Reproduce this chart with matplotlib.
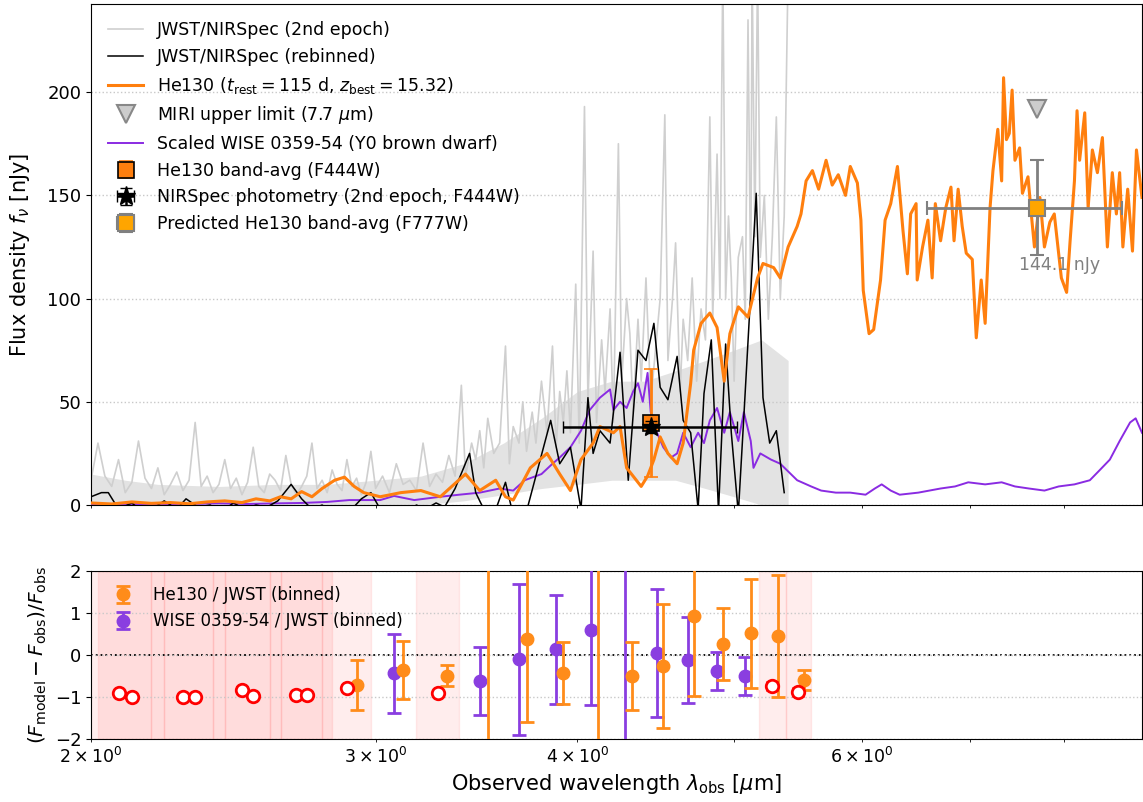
import numpy as np
import matplotlib
matplotlib.use("Agg")
import matplotlib.pyplot as plt

plt.rcParams.update({"font.family": "DejaVu Sans", "font.size": 12.5,
                     "mathtext.fontset": "dejavusans"})

C = {"gray": "#cfcfcf", "band": "#e3e3e3", "black": "black", "he": "#ff7f0e",
     "wise": "#8a2be2", "res_he": "#ff8c1a", "res_wise": "#8a3ee0", "flag": "red"}

# ── JWST/NIRSpec 2nd epoch spectrum (nJy) ────────────────────────────────────
gray_wl = [2.000, 2.020, 2.040, 2.060, 2.080, 2.100, 2.120, 2.140, 2.160, 2.180,
           2.200, 2.220, 2.240, 2.260, 2.280, 2.300, 2.320, 2.340, 2.360, 2.380,
           2.400, 2.420, 2.440, 2.460, 2.480, 2.500, 2.520, 2.540, 2.560, 2.580,
           2.600, 2.620, 2.640, 2.660, 2.680, 2.700, 2.720, 2.740, 2.760, 2.780,
           2.800, 2.820, 2.840, 2.860, 2.880, 2.900, 2.920, 2.940, 2.960, 2.980,
           3.000, 3.030, 3.060, 3.090, 3.120, 3.150, 3.180, 3.210, 3.240, 3.270,
           3.300, 3.330, 3.360, 3.390, 3.410, 3.440, 3.460, 3.480, 3.500, 3.520,
           3.550, 3.580, 3.610, 3.630, 3.650, 3.680, 3.700, 3.720, 3.750, 3.770,
           3.800, 3.830, 3.860, 3.880, 3.900, 3.920, 3.940, 3.960, 3.990, 4.010,
           4.040, 4.060, 4.090, 4.110, 4.140, 4.160, 4.190, 4.210, 4.240, 4.260,
           4.290, 4.310, 4.330, 4.360, 4.380, 4.410, 4.440, 4.470, 4.500, 4.530,
           4.550, 4.580, 4.600, 4.630, 4.650, 4.680, 4.710, 4.740, 4.770, 4.800,
           4.830, 4.850, 4.880, 4.900, 4.920, 4.940, 4.960, 4.980, 5.000, 5.030,
           5.060, 5.080, 5.100, 5.120, 5.130, 5.150, 5.170, 5.190, 5.220, 5.250,
           5.280, 5.310, 5.340, 5.370, 5.400]
gray_fnu = [12, 30, 14, 9, 22, 6, 11, 31, 13, 8,
            18, 5, 10, 16, 7, 12, 40, 9, 14, 6,
            10, 22, 8, 13, 5, 11, 28, 9, 6, 15,
            12, 7, 24, 10, 5, 9, 14, 30, 8, 12,
            6, 17, 10, 7, 22, 9, 13, 5, 11, 26,
            8, 14, 6, 20, 10, 12, 7, 30, 9, 15,
            11, 24, 14, 58, 14, 30, 22, 36, 18, 42,
            25, 30, 77, 20, 38, 30, 50, 26, 45, 30,
            60, 35, 77, 28, 55, 40, 65, 35, 107, 30,
            193, 50, 123, 40, 80, 55, 95, 40, 175, 60,
            100, 83, 45, 90, 60, 110, 50, 75, 100, 189,
            70, 100, 127, 55, 90, 70, 110, 60, 95, 80,
            188, 90, 170, 100, 260, 100, 140, 110, 60, 120,
            130, 90, 235, 100, 260, 130, 260, 120, 150, 90,
            130, 188, 100, 140, 260]

band_wl = [2.0, 2.1, 2.2, 2.4, 2.6, 2.8, 3.0, 3.2, 3.4, 3.6, 3.8, 4.0, 4.2, 4.4,
           4.6, 4.8, 5.0, 5.2, 5.4]
band_lo = [0, 0, 0, 0, 0, 0, 0, 0, 2, 5, 8, 10, 12, 12, 12, 8, 4, 0, 0]
band_hi = [15, 12, 10, 9, 10, 10, 12, 14, 20, 30, 42, 55, 60, 60, 65, 70, 75, 80, 70]

# ── rebinned spectrum ────────────────────────────────────────────────────────
bin_wl = [2.00, 2.03, 2.05, 2.08, 2.12, 2.15, 2.19, 2.22, 2.26, 2.29, 2.33, 2.37,
          2.41, 2.45, 2.49, 2.53, 2.57, 2.61, 2.66, 2.70, 2.74, 2.78, 2.82, 2.86,
          2.90, 2.94, 2.98, 3.02, 3.06, 3.10, 3.14, 3.18, 3.22, 3.27, 3.31, 3.36,
          3.43, 3.46, 3.50, 3.55, 3.61, 3.64, 3.72, 3.85, 3.90, 3.96, 4.02, 4.06,
          4.09, 4.13, 4.19, 4.25, 4.30, 4.36, 4.41, 4.46, 4.50, 4.55, 4.61, 4.65,
          4.70, 4.75, 4.79, 4.84, 4.89, 4.94, 4.98, 5.03, 5.07, 5.16, 5.21, 5.26,
          5.31, 5.37]
bin_fnu = [4, 6, 6, -2, 1, -3, -1, 2, -2, 3, -1, 0,
           -3, 1, -2, 0, -1, 2, 10, 3, -2, 0, -3, -1,
           -2, 3, 6, -2, -4, -1, -3, 0, -2, 1, -1, 8,
           25, 6, -2, -5, 11, -1, -3, 41, 20, 28, -2, 52,
           25, 36, 30, 74, 12, 75, 70, 88, 57, 51, 72, 41,
           35, -2, 54, 80, -3, 78, 35, -4, 43, 151, 52, 30,
           36, 6]

# ── He130 model (t_rest = 115 d, z = 15.32) ──────────────────────────────────
he_wl = [2.00, 2.06, 2.12, 2.18, 2.24, 2.30, 2.36, 2.42, 2.48, 2.53, 2.58, 2.62,
         2.66, 2.70, 2.74, 2.78, 2.83, 2.87, 2.91, 2.95, 3.02, 3.11, 3.20, 3.29,
         3.41, 3.48, 3.56, 3.61, 3.65, 3.74, 3.83, 3.90, 3.96, 4.02, 4.09, 4.13,
         4.21, 4.25, 4.29, 4.38, 4.42, 4.46, 4.50, 4.55, 4.61, 4.65, 4.70, 4.72,
         4.77, 4.83, 4.88, 4.93, 4.97, 5.03, 5.10, 5.17, 5.21, 5.29, 5.34, 5.40,
         5.47, 5.50, 5.54, 5.59, 5.64, 5.70, 5.75, 5.80, 5.86, 5.90, 5.96, 5.99,
         6.01, 6.06, 6.10, 6.16, 6.20, 6.25, 6.31, 6.36, 6.40, 6.43, 6.48, 6.49,
         6.54, 6.59, 6.63, 6.66, 6.71, 6.76, 6.81, 6.84, 6.88, 6.92, 6.96, 7.02,
         7.06, 7.11, 7.15, 7.20, 7.23, 7.28, 7.32, 7.34, 7.37, 7.40, 7.43, 7.46,
         7.51, 7.54, 7.60, 7.64, 7.67, 7.73, 7.78, 7.84, 7.89, 7.97, 8.03, 8.07,
         8.12, 8.15, 8.18, 8.24, 8.28, 8.33, 8.39, 8.45, 8.51, 8.57, 8.62, 8.66,
         8.70, 8.76, 8.82, 8.87, 8.94]
he_fnu = [1, 0.5, 1.5, 0.8, 1.2, 0.6, 1.5, 2, 1.2, 3, 2, 4,
          3, 6.5, 4, 8, 12, 13.5, 9, 6, 4, 6, 7, 4,
          15, 7, 12, 4, 2.4, 18, 25, 15, 7, 22, 30, 38,
          35, 38, 18, 9, 14, 22, 33, 25, 20, 30, 59, 75,
          88, 93, 86, 60, 83, 96, 91, 110, 117, 115, 110, 125,
          135, 141, 157, 162, 153, 167, 155, 160, 150, 164, 156, 138,
          104, 83, 85, 109, 138, 146, 164, 133, 112, 141, 146, 109,
          125, 138, 110, 146, 128, 144, 154, 128, 153, 135, 122, 119,
          81, 109, 88, 144, 162, 182, 157, 207, 177, 180, 201, 167,
          173, 151, 159, 139, 125, 149, 125, 137, 141, 110, 103, 128,
          157, 191, 167, 190, 144, 172, 161, 178, 125, 161, 141, 161,
          125, 153, 123, 172, 149]

# ── scaled WISE 0359-54 (Y0 brown dwarf) ─────────────────────────────────────
wise_wl = [2.00, 2.10, 2.20, 2.30, 2.40, 2.50, 2.60, 2.70, 2.80, 2.89, 3.02, 3.08,
           3.17, 3.29, 3.38, 3.48, 3.58, 3.65, 3.71, 3.80, 3.86, 3.90, 3.96, 4.02,
           4.07, 4.13, 4.19, 4.21, 4.25, 4.29, 4.33, 4.36, 4.39, 4.42, 4.44, 4.48,
           4.52, 4.57, 4.61, 4.65, 4.70, 4.75, 4.79, 4.83, 4.88, 4.93, 4.97, 5.03,
           5.07, 5.12, 5.14, 5.19, 5.27, 5.34, 5.47, 5.58, 5.66, 5.78, 5.90, 6.03,
           6.11, 6.17, 6.25, 6.33, 6.50, 6.71, 6.85, 6.98, 7.15, 7.32, 7.46, 7.61,
           7.78, 7.94, 8.12, 8.30, 8.42, 8.54, 8.66, 8.79, 8.86, 8.94]
wise_fnu = [0.5, 0.5, 0.3, 0.5, 0.8, 0.5, 0.8, 1.0, 1.5, 2.4, 2.4, 4.4,
            2.4, 4, 5, 6, 8, 7, 12, 15, 20, 23, 28, 36,
            46, 52, 56, 46, 50, 47, 55, 59, 50, 64, 45, 35,
            28, 23, 25, 35, 28, 35, 30, 41, 47, 35, 45, 31,
            45, 31, 18, 25, 22, 20, 12, 9, 7, 6, 6, 5,
            8, 10, 7, 5, 6, 8, 9, 11, 10, 11, 9, 8,
            7, 9, 10, 12, 17, 22, 31, 40, 42, 35]

# ── band-averaged photometry ─────────────────────────────────────────────────
f444_wl, f444_lo, f444_hi = 4.44, 3.92, 5.02
f444_model, f444_model_err = 39.7, 26.0
f444_obs, f444_obs_err = 37.8, 3.0
f777_wl, f777_lo, f777_hi = 7.7, 6.58, 8.69
f777_pred, f777_pred_err = 144.1, 23.0
miri_ul = 192.0

# ── binned residuals (F_model - F_obs) / F_obs ───────────────────────────────
res_he_wl = [2.92, 3.12, 3.32, 3.52, 3.72, 3.92, 4.12, 4.32, 4.52, 4.72, 4.92, 5.12, 5.32, 5.52]
res_he = [-0.71, -0.36, -0.50, 2.60, 0.38, -0.43, -2.60, -0.50, -0.26, 0.93, 0.26, 0.52, 0.45, -0.60]
res_he_err = [0.60, 0.70, 0.25, 5.00, 1.98, 0.74, 5.00, 0.80, 1.47, 1.91, 0.85, 1.30, 1.45, 0.24]

res_wise_wl = [3.08, 3.48, 3.68, 3.88, 4.08, 4.28, 4.48, 4.68, 4.88, 5.08]
res_wise = [-0.43, -0.62, -0.10, 0.14, 0.60, -2.50, 0.05, -0.12, -0.38, -0.50]
res_wise_err = [0.94, 0.80, 1.80, 1.30, 1.80, 5.00, 1.52, 1.03, 0.45, 0.45]

flag_wl = [2.08, 2.12, 2.28, 2.32, 2.48, 2.52, 2.68, 2.72, 2.88, 3.28, 5.28, 5.48]
flag_res = [-0.905, -1.0, -1.0, -1.0, -0.83, -0.98, -0.95, -0.95, -0.79, -0.905, -0.74, -0.88]
flag_err = [0.03, 0.02, 0.02, 0.02, 0.07, 0.02, 0.02, 0.02, 0.07, 0.03, 0.10, 0.10]
flag_halfwidth = 0.1


fig = plt.figure(figsize=(11.43, 8.02), dpi=100)
ax = fig.add_axes([0.0796, 0.3703, 0.9195, 0.6247])
axr = fig.add_axes([0.0796, 0.0786, 0.9195, 0.2094], sharex=ax)

# ── top panel ────────────────────────────────────────────────────────────────
ax.fill_between(band_wl, band_lo, band_hi, color=C["band"], lw=0, zorder=1)
h_gray, = ax.plot(gray_wl, gray_fnu, color=C["gray"], lw=1.2, zorder=2,
                  label="JWST/NIRSpec (2nd epoch)")
h_bin, = ax.plot(bin_wl, bin_fnu, color=C["black"], lw=1.1, zorder=4,
                 label="JWST/NIRSpec (rebinned)")
h_he, = ax.plot(he_wl, he_fnu, color=C["he"], lw=2.2, zorder=5,
                label=r"He130 ($t_{\rm rest}=115$ d, $z_{\rm best}=15.32$)")
h_miri, = ax.plot([f777_wl], [miri_ul], ls="none", marker="v", ms=13,
                  mfc="#cccccc", mec="#888888", mew=1.5, zorder=7,
                  label=r"MIRI upper limit (7.7 $\mu$m)")
h_wise, = ax.plot(wise_wl, wise_fnu, color=C["wise"], lw=1.4, zorder=3,
                  label="Scaled WISE 0359-54 (Y0 brown dwarf)")
h_f444m = ax.errorbar([f444_wl], [f444_model], yerr=[f444_model_err], fmt="s",
                      ms=11, mfc=C["he"], mec="black", mew=1.2, ecolor=C["he"],
                      elinewidth=2, capsize=5, zorder=8, label="He130 band-avg (F444W)")
h_f444o = ax.errorbar([f444_wl], [f444_obs], yerr=[f444_obs_err],
                      xerr=[[f444_wl - f444_lo], [f444_hi - f444_wl]], fmt="*",
                      ms=14, color="black", elinewidth=1.8, capsize=4, zorder=9,
                      label="NIRSpec photometry (2nd epoch, F444W)")
h_f777 = ax.errorbar([f777_wl], [f777_pred], yerr=[f777_pred_err],
                     xerr=[[f777_wl - f777_lo], [f777_hi - f777_wl]], fmt="s",
                     ms=11, mfc="#ffa500", mec="gray", mew=1.5, ecolor="gray",
                     elinewidth=2, capsize=5, zorder=8,
                     label="Predicted He130 band-avg (F777W)")
ax.text(f777_wl + 0.25, f777_pred - 28, f"{f777_pred:.1f} nJy", color="gray",
        ha="center", va="center", fontsize=12.5, zorder=9)

ax.set_xscale("log")
ax.set_xlim(2.0, 8.94)
ax.set_ylim(0, 242.7)
ax.set_ylabel(r"Flux density $f_\nu$ [nJy]", fontsize=15)
ax.yaxis.set_label_coords(-0.056, 0.5)
ax.grid(axis="y", ls=":", color="#c8c8c8", lw=1)
ax.tick_params(labelbottom=False, labelsize=13)
ax.tick_params(axis="x", which="both", labelbottom=False)
ax.legend(handles=[h_gray, h_bin, h_he, h_miri, h_wise, h_f444m, h_f444o, h_f777],
          loc="upper left", frameon=False, fontsize=12.5, borderaxespad=0.6)

# ── residual panel ───────────────────────────────────────────────────────────
for xw in flag_wl:
    axr.axvspan(xw - flag_halfwidth, xw + flag_halfwidth, color=C["flag"],
                alpha=0.07, zorder=0)
axr.axhline(0, color="black", ls=":", lw=1.3, zorder=1)
axr.errorbar(res_he_wl, res_he, yerr=res_he_err, fmt="o", ms=9, color=C["res_he"],
             elinewidth=2, capsize=5, capthick=2, zorder=4,
             label="He130 / JWST (binned)")
axr.errorbar(res_wise_wl, res_wise, yerr=res_wise_err, fmt="o", ms=9,
             color=C["res_wise"], elinewidth=2, capsize=5, capthick=2, zorder=3,
             label="WISE 0359-54 / JWST (binned)")
axr.errorbar(flag_wl, flag_res, yerr=flag_err, fmt="o", ms=9, mfc="white",
             mec=C["flag"], mew=2, ecolor=C["flag"], elinewidth=2, capsize=4,
             capthick=2, zorder=5)

axr.set_ylim(-2, 2)
axr.set_yticks([-2, -1, 0, 1, 2])
axr.grid(axis="y", ls=":", color="#c8c8c8", lw=1)
axr.tick_params(labelsize=13)
axr.set_ylabel(r"$(F_{\rm model}-F_{\rm obs})/F_{\rm obs}$", fontsize=14.5)
axr.set_xlabel(r"Observed wavelength $\lambda_{\rm obs}$ [$\mu$m]", fontsize=15)
axr.legend(loc="upper left", frameon=False, fontsize=12)

fig.savefig("out.png", dpi=100)
